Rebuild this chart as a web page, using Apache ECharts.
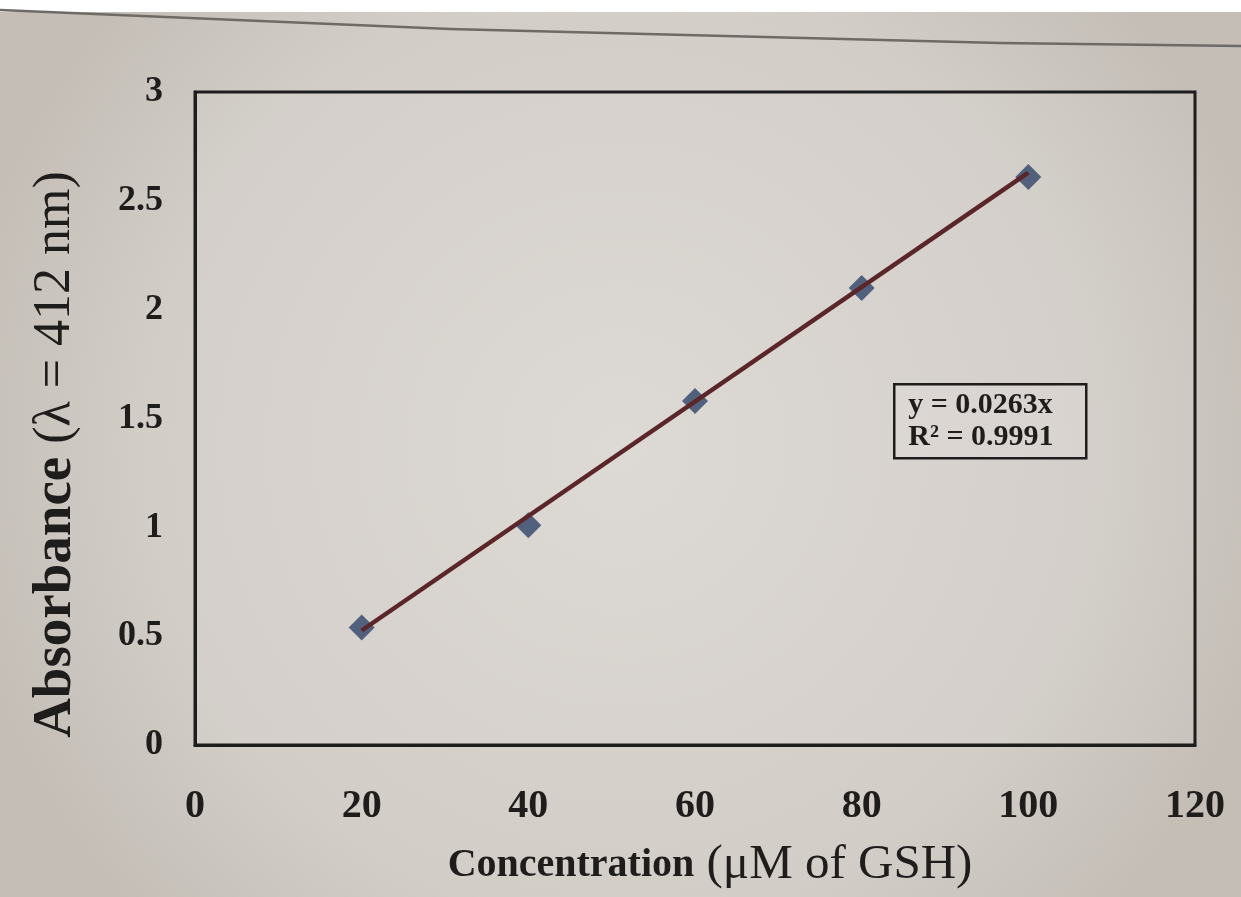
<!DOCTYPE html>
<html>
<head>
<meta charset="utf-8">
<script src="https://cdn.jsdelivr.net/npm/echarts@6/dist/echarts.min.js"></script>
<style>
  html, body { margin: 0; padding: 0; background: #d3cec8; }
  #chart { width: 1241px; height: 897px; }
</style>
</head>
<body>
<div id="chart"></div>
<script>
// GSH standard curve: absorbance at 412 nm against concentration
const concentration = [20, 40, 60, 80, 100];
const absorbance = [0.54, 1.01, 1.58, 2.10, 2.61];

// linear trendline through the origin
const trendSlope = 0.0263;
const rSquared = 0.9991;

// axis scales
const xMin = 0, xMax = 120, xStep = 20;
const yMin = 0, yMax = 3, yStep = 0.5;

const points = concentration.map((c, i) => [c, absorbance[i]]);
const trendEnds = [concentration[0], concentration[concentration.length - 1]];
const trendLine = trendEnds.map(c => [c, +(trendSlope * c).toFixed(4)]);

const serif = 'Liberation Serif, Times New Roman, serif';
const ink = '#1f1d1c';

const chart = echarts.init(document.getElementById('chart'), null, { renderer: 'canvas' });

chart.setOption({
  backgroundColor: {
    type: 'radial', x: 0.5, y: 0.5, r: 0.75,
    colorStops: [
      { offset: 0, color: '#dbd7d2' },
      { offset: 0.7, color: '#d2cdc7' },
      { offset: 1, color: '#c4beb7' }
    ]
  },
  animation: false,
  grid: {
    left: 195, right: 46, top: 92, bottom: 152,
    outerBoundsMode: 'none',
    containLabel: false,
    show: true,
    borderColor: ink,
    borderWidth: 3,
    backgroundColor: 'rgba(255,255,255,0.06)'
  },
  xAxis: {
    type: 'value',
    min: xMin, max: xMax, interval: xStep,
    axisLine: { show: true, lineStyle: { color: ink, width: 3 } },
    axisTick: { show: false },
    splitLine: { show: false },
    axisLabel: {
      margin: 42,
      color: ink,
      fontFamily: serif,
      fontWeight: 'bold',
      fontSize: 40
    },
    name: '{b|Concentration}{n| (μM of GSH)}',
    nameLocation: 'middle',
    nameGap: 96,
    nameMoveOverlap: false,
    nameTextStyle: {
      padding: [0, 0, 0, 30],
      rich: {
        b: { fontFamily: serif, fontWeight: 'bold', fontSize: 40, color: ink },
        n: { fontFamily: serif, fontWeight: 'normal', fontSize: 49, color: ink }
      }
    }
  },
  yAxis: {
    type: 'value',
    min: yMin, max: yMax, interval: yStep,
    axisLine: { show: true, lineStyle: { color: ink, width: 3 } },
    axisTick: { show: false },
    splitLine: { show: false },
    axisLabel: {
      margin: 32,
      color: ink,
      fontFamily: serif,
      fontWeight: 'bold',
      fontSize: 36
    },
    name: '{b|Absorbance}{n| (λ = 412 nm)}',
    nameLocation: 'middle',
    nameGap: 112,
    nameMoveOverlap: false,
    nameTextStyle: {
      padding: [0, 72, 0, 0],
      rich: {
        b: { fontFamily: serif, fontWeight: 'bold', fontSize: 55, color: ink },
        n: { fontFamily: serif, fontWeight: 'normal', fontSize: 52, color: ink }
      }
    }
  },
  series: [
    {
      name: 'Absorbance',
      type: 'scatter',
      data: points,
      symbol: 'diamond',
      symbolSize: 26,
      itemStyle: { color: '#4a5b78', opacity: 0.95 },
      z: 2
    },
    {
      name: 'Linear fit',
      type: 'line',
      data: trendLine,
      showSymbol: false,
      symbol: 'none',
      lineStyle: { color: '#5a2629', width: 4.5 },
      z: 3
    }
  ],
  graphic: [
    // white strip and ruled line along the top of the page
    {
      type: 'rect', left: 0, top: 0, silent: true,
      shape: { width: 1241, height: 12 },
      style: { fill: '#ffffff' }
    },
    {
      type: 'polyline', silent: true,
      shape: { points: [[0, 10], [450, 29], [1000, 43], [1241, 46]] },
      style: { stroke: '#6e6a66', lineWidth: 2.5, fill: null }
    },
    // regression equation box
    {
      type: 'group', left: 893, top: 383, silent: true,
      children: [
        {
          type: 'rect',
          shape: { width: 192, height: 74 },
          style: { fill: 'rgba(255,255,255,0.1)', stroke: ink, lineWidth: 2.5 }
        },
        {
          type: 'text', left: 14, top: 5,
          style: {
            text: 'y = ' + trendSlope + 'x\nR² = ' + rSquared,
            fontFamily: serif, fontWeight: 'bold', fontSize: 30,
            lineHeight: 32, fill: ink
          }
        }
      ]
    }
  ]
});
</script>
</body>
</html>
